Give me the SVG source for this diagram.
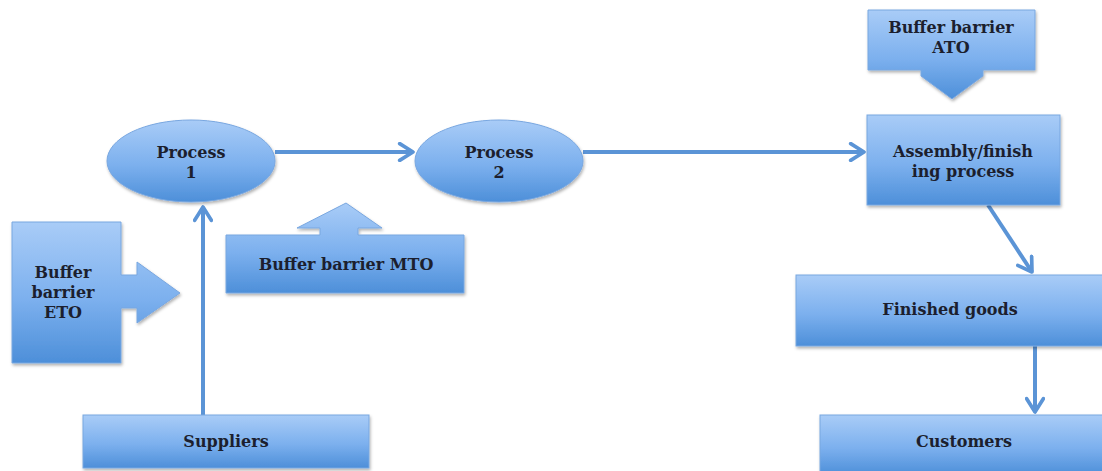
<svg xmlns="http://www.w3.org/2000/svg" width="1102" height="471" viewBox="0 0 1102 471">
<defs>
<linearGradient id="g" x1="0" y1="0" x2="0" y2="1">
<stop offset="0" stop-color="#a9ccf7"/>
<stop offset="0.55" stop-color="#7cb0ee"/>
<stop offset="1" stop-color="#4d8fd9"/>
</linearGradient>
<filter id="sh" x="-10%" y="-10%" width="120%" height="130%">
<feDropShadow dx="1" dy="2" stdDeviation="1.5" flood-color="#000" flood-opacity="0.3"/>
</filter>
<marker id="chev" viewBox="0 0 12 12" refX="10" refY="6" markerWidth="5" markerHeight="5" orient="auto" markerUnits="strokeWidth">
<path d="M2,1 L10,6 L2,11" fill="none" stroke="#5b94d6" stroke-width="2.2" stroke-linecap="round" stroke-linejoin="round"/>
</marker>
</defs>
<style>
.shape{fill:url(#g);stroke:#79a7e0;stroke-width:1;filter:url(#sh)}
.lbl{font-family:"DejaVu Serif","Liberation Serif",serif;font-size:16px;font-weight:bold;fill:#1c1f2e;text-anchor:middle}
.con{fill:none;stroke:#5b94d6;stroke-width:4;marker-end:url(#chev)}
</style>
<rect width="1102" height="471" fill="#ffffff"/>
<g id="connectors">
<line class="con" x1="275" y1="152" x2="413" y2="152"/>
<line class="con" x1="583" y1="152" x2="864" y2="152"/>
<line class="con" x1="203" y1="415" x2="203" y2="207"/>
<line class="con" x1="988" y1="205" x2="1032" y2="272"/>
<line class="con" x1="1035" y1="346" x2="1035" y2="412"/>
</g>
<g id="process1">
<ellipse class="shape" cx="191" cy="161" rx="84" ry="41"/>
<text class="lbl" x="191" y="158">Process</text>
<text class="lbl" x="191" y="178">1</text>
</g>
<g id="process2">
<ellipse class="shape" cx="499" cy="161" rx="84" ry="41"/>
<text class="lbl" x="499" y="158">Process</text>
<text class="lbl" x="499" y="178">2</text>
</g>
<g id="buffer-eto">
<path class="shape" d="M12,222 H121 V275 H137 V262 L180,293 L137,323 V308 H121 V363 H12 Z"/>
<text class="lbl" x="63" y="278">Buffer</text>
<text class="lbl" x="63" y="298">barrier</text>
<text class="lbl" x="63" y="318">ETO</text>
</g>
<g id="buffer-mto">
<path class="shape" d="M226,235 H320 V228 H297 L346,203 L382,228 H358 V235 H464 V293 H226 Z"/>
<text class="lbl" x="346" y="270">Buffer barrier MTO</text>
</g>
<g id="suppliers">
<rect class="shape" x="83" y="415" width="286" height="53"/>
<text class="lbl" x="226" y="447">Suppliers</text>
</g>
<g id="buffer-ato">
<path class="shape" d="M868,10 H1035 V70 H983 V76 L952,99 L921,76 V70 H868 Z"/>
<text class="lbl" x="951" y="33">Buffer barrier</text>
<text class="lbl" x="951" y="53">ATO</text>
</g>
<g id="assembly">
<rect class="shape" x="867" y="115" width="193" height="90"/>
<text class="lbl" x="963" y="157">Assembly/finish</text>
<text class="lbl" x="963" y="177">ing process</text>
</g>
<g id="finished-goods">
<rect class="shape" x="796" y="275" width="310" height="71"/>
<text class="lbl" x="950" y="315">Finished goods</text>
</g>
<g id="customers">
<rect class="shape" x="820" y="415" width="286" height="60"/>
<text class="lbl" x="964" y="447">Customers</text>
</g>
</svg>
